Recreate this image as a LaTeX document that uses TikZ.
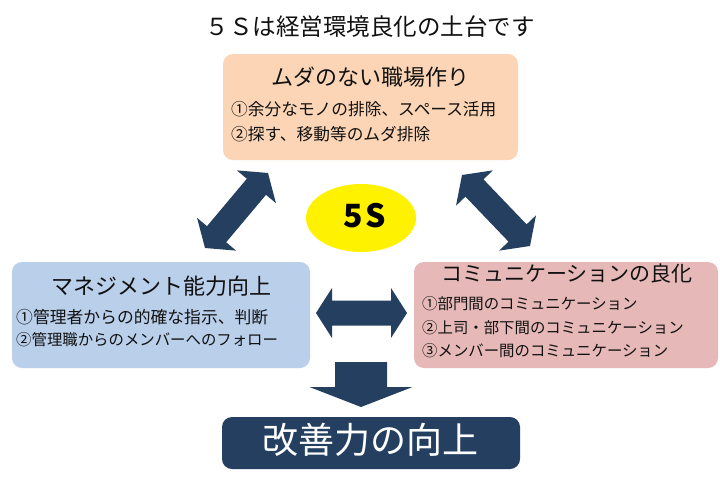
\documentclass[tikz,border=0pt]{standalone}
\usepackage{fontspec}
\setmainfont{Noto Sans CJK JP}
\usetikzlibrary{calc,shapes.geometric}
\definecolor{navy}{HTML}{243F60}
\definecolor{peach}{HTML}{FBD5B5}
\definecolor{lblue}{HTML}{B9CFEA}
\definecolor{lpink}{HTML}{E6B9B8}
\definecolor{ink}{HTML}{111111}
% double block arrow: from, to, head length, head half width, shaft half width
\newcommand\dblblockarrow[5]{%
  \coordinate (da-p) at ($(#1)!#3!(#2)$);
  \coordinate (da-q) at ($(#2)!#3!(#1)$);
  \fill[navy] (#1) -- ($(da-p)!#4!90:(#2)$) -- ($(da-p)!#5!90:(#2)$)
    -- ($(da-q)!#5!90:(#2)$) -- ($(da-q)!#4!90:(#2)$) -- (#2)
    -- ($(da-q)!#4!-90:(#2)$) -- ($(da-q)!#5!-90:(#2)$)
    -- ($(da-p)!#5!-90:(#2)$) -- ($(da-p)!#4!-90:(#2)$) -- cycle;
}
% single block arrow: tail, tip, head length, head half width, shaft half width
\newcommand\sglblockarrow[5]{%
  \coordinate (sa-q) at ($(#2)!#3!(#1)$);
  \fill[navy] ($(#1)!#5!90:(#2)$) -- ($(sa-q)!#5!90:(#2)$) -- ($(sa-q)!#4!90:(#2)$)
    -- (#2) -- ($(sa-q)!#4!-90:(#2)$) -- ($(sa-q)!#5!-90:(#2)$)
    -- ($(#1)!#5!-90:(#2)$) -- cycle;
}
\begin{document}
\begin{tikzpicture}[x=1pt,y=-1pt,
  box/.style={rectangle, rounded corners=10pt, inner sep=0pt, draw=none},
  txt/.style={inner sep=0pt, text=ink, font=\fontsize{#1pt}{#1pt}\selectfont}]
\useasboundingbox (0,0) rectangle (720,498);
\fill[white] (0,0) rectangle (720,498);

% title
\node[txt=23.5, anchor=base] (title) at (370,35.7) {５Ｓは経営環境良化の土台です};

% boxes
\node[box, fill=peach, minimum width=295pt, minimum height=106pt] (topbox) at (370.5,107) {};
\node[box, fill=lblue, minimum width=298pt, minimum height=106pt] (leftbox) at (161,315) {};
\node[box, fill=lpink, minimum width=304pt, minimum height=106pt] (rightbox) at (566,315) {};
\node[box, fill=navy, minimum width=298pt, minimum height=52pt] (result) at (371,443) {};
\node[ellipse, fill=yellow, inner sep=0pt, minimum width=110pt, minimum height=68pt] (fiveS) at (361,218) {};

% top box text
\node[txt=22, anchor=base] (toptitle) at (370,85.1) {ムダのない職場作り};
\node[txt=16.7, anchor=base west] (top1) at (231,115.2) {①余分なモノの排除、スペース活用};
\node[txt=16.7, anchor=base west] (top2) at (231,140.2) {②探す、移動等のムダ排除};

% left box text
\node[txt=22, anchor=base] (lefttitle) at (161,294.1) {マネジメント能力向上};
\node[txt=16.8, anchor=base west] (left1) at (16,323.2) {①管理者からの的確な指示、判断};
\node[txt=15.4, anchor=base west] (left2) at (16,345.7) {②管理職からのメンバーへのフォロー};

% right box text
\node[txt=21, anchor=base] (righttitle) at (567,281.8) {コミュニケーションの良化};
\node[txt=15.4, anchor=base west] (right1) at (422,309.7) {①部門間のコミュニケーション};
\node[txt=15.4, anchor=base west] (right2) at (422,333.7) {②上司・部下間のコミュニケーション};
\node[txt=15.4, anchor=base west] (right3) at (422,356.7) {③メンバー間のコミュニケーション};

% result text
\node[inner sep=0pt, text=white, font=\fontsize{36pt}{36pt}\selectfont, anchor=base] (resulttext) at (370,453.3) {改善力の向上};

% 5S text
\node[inner sep=0pt, text=black, font=\fontsize{32pt}{32pt}\selectfont\bfseries, anchor=base] (fiveStext) at (364.5,227.3) {5\kern3pt S};

% arrows
\coordinate (la1) at (205,248);
\coordinate (la2) at (268,173);
\dblblockarrow{la1}{la2}{18pt}{25.5pt}{12.5pt}
\coordinate (ra1) at (462,175);
\coordinate (ra2) at (530,246);
\dblblockarrow{ra1}{ra2}{18pt}{25.5pt}{12.5pt}
\coordinate (ma1) at (316,313);
\coordinate (ma2) at (407,313);
\dblblockarrow{ma1}{ma2}{16pt}{25pt}{12.5pt}
\coordinate (da1) at (361,362);
\coordinate (da2) at (361,407);
\sglblockarrow{da1}{da2}{20pt}{51.5pt}{26pt}
\end{tikzpicture}
\end{document}
